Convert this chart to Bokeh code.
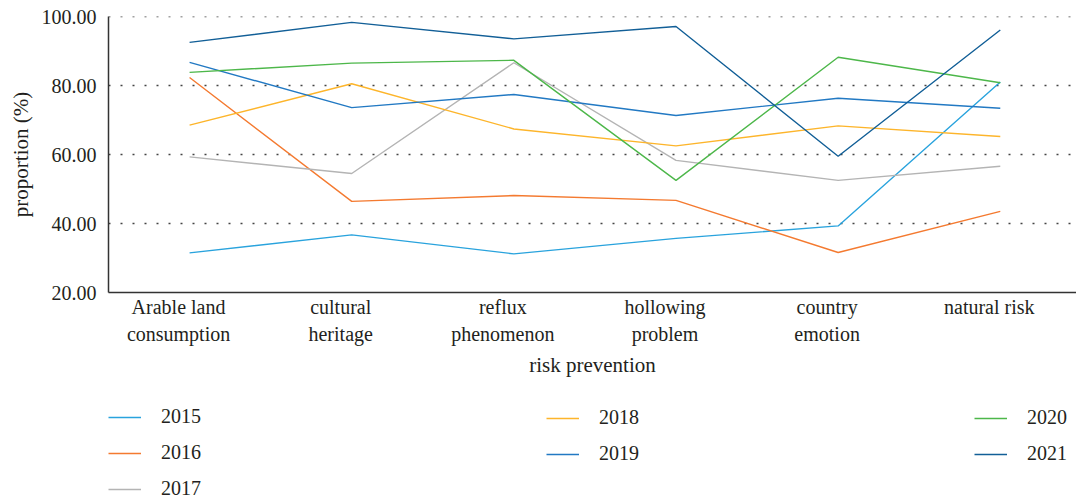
from bokeh.plotting import figure
from bokeh.layouts import column
from bokeh.models import (Range1d, FixedTicker, Legend, LegendItem, ColumnDataSource,
                          Span, LinearAxis)
from bokeh.embed import file_html
from bokeh.resources import INLINE

categories = ["Arable land\nconsumption", "cultural\nheritage", "reflux\nphenomenon",
              "hollowing\nproblem", "country\nemotion", "natural risk"]
years = ["2015", "2016", "2017", "2018", "2019", "2020", "2021"]

v2015 = [31.5, 36.7, 31.2, 35.7, 39.3, 81.0]
v2016 = [82.3, 46.4, 48.1, 46.7, 31.6, 43.5]
v2017 = [59.3, 54.5, 86.6, 58.3, 52.5, 56.6]
v2018 = [68.5, 80.5, 67.4, 62.5, 68.3, 65.2]
v2019 = [86.7, 73.6, 77.4, 71.3, 76.3, 73.4]
v2020 = [83.8, 86.5, 87.3, 52.5, 88.2, 80.8]
v2021 = [92.5, 98.3, 93.5, 97.1, 59.5, 96.1]
series = [v2015, v2016, v2017, v2018, v2019, v2020, v2021]

colors = ["#29a3dd", "#f47a30", "#b4b4b4", "#fdb52b", "#2279c3", "#4db74a", "#125f97"]
y_ticks = [20, 40, 60, 80, 100]

FONT = "Liberation Serif"
TEXT = "#231f20"
FS = "20px"
TITLE_FS = "21px"

X0, X1 = -0.5, 5.47
p = figure(width=1076, height=400, output_backend="svg", toolbar_location=None,
           x_range=Range1d(X0, X1), y_range=Range1d(20, 100),
           x_axis_location=None,
           min_border_left=108, min_border_right=0, min_border_top=16,
           min_border_bottom=108)
p.outline_line_color = None

xs = list(range(len(categories)))
for yr, vals, c in zip(years, series, colors):
    src = ColumnDataSource(dict(x=xs, y=vals))
    p.line("x", "y", source=src, line_color=c, line_width=1.4)

# category axis; its labels sit a little left of the data columns
p.extra_x_ranges = {"labels": Range1d(X0 + 0.068, X1 + 0.068)}
xax = LinearAxis(x_range_name="labels")
xax.ticker = FixedTicker(ticks=xs)
xax.major_label_overrides = {i: lab for i, lab in enumerate(categories)}
xax.axis_label = "risk prevention"
xax.major_tick_line_color = None
xax.minor_tick_line_color = None
xax.axis_line_color = "#333333"
xax.axis_line_width = 1.5
xax.major_label_text_font = FONT
xax.major_label_text_font_size = FS
xax.major_label_text_color = TEXT
xax.major_label_text_line_height = 1.25
xax.major_label_standoff = -3
xax.axis_label_text_font = FONT
xax.axis_label_text_font_size = TITLE_FS
xax.axis_label_text_font_style = "normal"
xax.axis_label_text_color = TEXT
xax.axis_label_standoff = 5
p.add_layout(xax, "below")

# y axis
p.yaxis.ticker = FixedTicker(ticks=y_ticks)
p.yaxis.major_label_overrides = {t: f"{t:.2f}" for t in y_ticks}
p.yaxis.axis_label = "proportion (%)"
p.yaxis.major_tick_line_color = None
p.yaxis.minor_tick_line_color = None
p.yaxis.axis_line_color = "#333333"
p.yaxis.axis_line_width = 1.5
p.yaxis.major_label_text_font = FONT
p.yaxis.major_label_text_font_size = FS
p.yaxis.major_label_text_color = TEXT
p.yaxis.major_label_standoff = 6
p.yaxis.axis_label_text_font = FONT
p.yaxis.axis_label_text_font_size = TITLE_FS
p.yaxis.axis_label_text_font_style = "normal"
p.yaxis.axis_label_text_color = TEXT
p.yaxis.axis_label_standoff = 6

p.xgrid.grid_line_color = None
p.ygrid.grid_line_color = "#444444"
p.ygrid.grid_line_dash = "2 10"
p.ygrid.grid_line_width = 1.5
# dotted guide on the top tick, which sits on the frame edge
p.add_layout(Span(location=y_ticks[-1], dimension="width", line_color="#444444",
                  line_dash="2 10", line_width=1.5))

# legend strip: three columns of series keys
leg = figure(width=1076, height=100, output_backend="svg", toolbar_location=None,
             x_range=Range1d(0, 1), y_range=Range1d(0, 1),
             min_border_left=0, min_border_right=0, min_border_top=0,
             min_border_bottom=0)
leg.outline_line_color = None
leg.xaxis.visible = False
leg.yaxis.visible = False
leg.grid.visible = False

keys = {}
for yr, c in zip(years, colors):
    keys[yr] = leg.line(x=[-5, -4], y=[-5, -5], line_color=c, line_width=1.4)

columns = [(["2015", "2016", "2017"], (0, 0)),
           (["2018", "2019"], (438, 35)),
           (["2020", "2021"], (866, 35))]
for names, loc in columns:
    lg = Legend(items=[LegendItem(label=n, renderers=[keys[n]]) for n in names],
                orientation="vertical", location=loc,
                border_line_color=None, background_fill_alpha=0,
                label_text_font=FONT, label_text_font_size=FS,
                label_text_color=TEXT, glyph_width=33, glyph_height=20,
                label_standoff=20, label_height=20,
                spacing=13, padding=0, margin=0)
    leg.add_layout(lg, "center")

layout = column(p, leg, spacing=0)
open("out.html", "w").write(file_html(layout, INLINE))
